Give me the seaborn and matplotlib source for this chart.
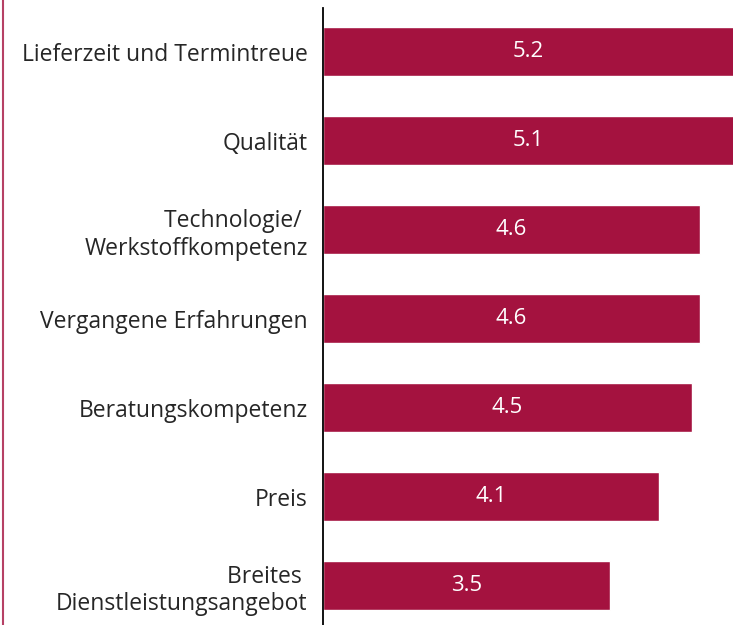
import matplotlib
matplotlib.use("Agg")
import matplotlib.pyplot as plt
import seaborn as sns
import pandas as pd
from matplotlib.lines import Line2D

# --- Data ---
categories = [
    "Lieferzeit und Termintreue",
    "Qualität",
    "Technologie/ \nWerkstoffkompetenz",
    "Vergangene Erfahrungen",
    "Beratungskompetenz",
    "Preis",
    "Breites \nDienstleistungsangebot",
]
values = [5.2, 5.1, 4.6, 4.6, 4.5, 4.1, 3.5]

df = pd.DataFrame({"kriterium": categories, "wert": values})

bar_color = "#A4123F"

sns.set_style("white")
plt.rcParams["font.family"] = ["Open Sans", "DejaVu Sans"]

fig = plt.figure(figsize=(7.33, 6.25), dpi=100)
ax = fig.add_axes([323 / 733, 0, 1 - 323 / 733, (625 - 8) / 625])

sns.barplot(data=df, x="wert", y="kriterium", orient="h",
            color=bar_color, saturation=1, width=0.55, ax=ax)

xlo, xhi = 0, 5.0
ax.set_xlim(xlo, xhi)
ax.set_ylim(6.44, -0.494)

# value labels centred in the visible part of each bar
for i, v in enumerate(values):
    ax.text((xlo + min(v, xhi)) / 2, i, f"{v:.1f}", color="white",
            ha="center", va="center", fontsize=16)

ax.set_xlabel("")
ax.set_ylabel("")
ax.set_xticks([])
ax.tick_params(axis="y", length=0, pad=11, labelsize=16.5)
for lbl in ax.get_yticklabels():
    lbl.set_multialignment("right")
    lbl.set_linespacing(1.2)

for side in ["top", "right", "bottom"]:
    ax.spines[side].set_visible(False)
ax.spines["left"].set_color("black")
ax.spines["left"].set_linewidth(1.3)
ax.spines["left"].set_zorder(5)

# thin border line at the left edge of the picture
fig.add_artist(Line2D([3 / 733, 3 / 733], [0, 1], color=bar_color,
                      linewidth=1.5, alpha=0.8, transform=fig.transFigure))

fig.savefig("out.png", dpi=100)
